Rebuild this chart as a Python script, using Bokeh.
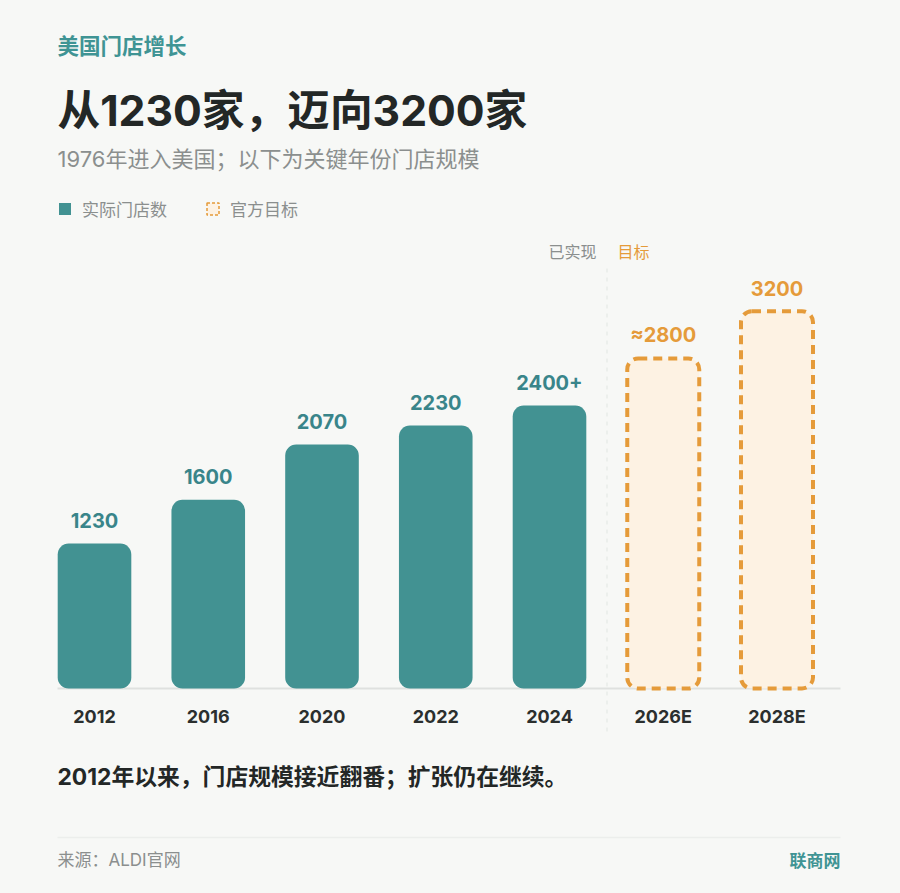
from bokeh.embed import file_html
from bokeh.resources import INLINE
from bokeh.plotting import figure
from bokeh.models import (ColumnDataSource, Range1d, FixedTicker, Label,
                          PolyAnnotation, Legend, LegendItem)
from bokeh.core.properties import value

BG = "#f7f8f6"
TEAL = "#429292"
TEAL_TEXT = "#39858a"
ORANGE = "#e59b3a"
ORANGE_FILL = "#fdf2e3"
DARK = "#232726"
GREY = "#8b8f8e"

categories = ["2012", "2016", "2020", "2022", "2024", "2026E", "2028E"]
actual_pos = [0, 1, 2, 3, 4]
actual_values = [1230, 1600, 2070, 2230, 2400]
actual_labels = ["1230", "1600", "2070", "2230", "2400+"]
target_pos = [5, 6]
target_values = [2800, 3200]
target_labels = ["≈2800", "3200"]

CJK = "Noto Sans CJK SC"
STACK = "Inter, 'Noto Sans CJK SC'"
W, H = 900, 893
PX_PER_UNIT = 0.1179
STEP = 113.75
BASE = 688     # baseline on the canvas
FIRST = 94     # centre of the first bar on the canvas

p = figure(width=W, height=H, output_backend="svg", toolbar_location=None,
           min_border=0,
           x_range=Range1d(-FIRST / STEP, (W - FIRST) / STEP),
           y_range=Range1d(-(H - BASE) / PX_PER_UNIT, BASE / PX_PER_UNIT),
           background_fill_color=BG, border_fill_color=BG, outline_line_color=None)
p.grid.visible = False
p.yaxis.visible = False
ax = p.xaxis[0]
ax.ticker = FixedTicker(ticks=list(range(len(categories))))
ax.major_label_overrides = {i: c for i, c in enumerate(categories)}
ax.axis_line_color = None
ax.major_tick_line_color = None
ax.minor_tick_line_color = None
ax.major_label_standoff = -(H - BASE) + 11
ax.major_label_text_font = "Inter"
ax.major_label_text_font_size = "18px"
ax.major_label_text_font_style = "bold"
ax.major_label_text_color = "#2b2f2e"


def rule(xs, ys, color, width, dash="solid", level="underlay"):
    p.add_layout(PolyAnnotation(xs=xs, ys=ys, xs_units="canvas", ys_units="canvas", fill_alpha=0,
                                line_alpha=1, line_color=color, line_width=width, line_dash=dash,
                                level=level))


rule([57, 840], [688, 688], "#dfe1df", 2)
rule([606.5, 606.5], [268, 732], "#e9ebe9", 1.5, "4 5")
rule([57, 840], [837, 837], "#eceeec", 1.5)

src_a = ColumnDataSource(dict(x=actual_pos, top=actual_values, label=actual_labels))
src_t = ColumnDataSource(dict(x=target_pos, top=target_values, label=target_labels))
r_a = p.vbar(x="x", top="top", bottom=0, width=73.6 / STEP, source=src_a, fill_color=TEAL,
             line_color=None, border_radius=11)
r_t = p.vbar(x="x", top="top", bottom=0, width=72 / STEP, source=src_t, fill_color=ORANGE_FILL,
             line_color=ORANGE, line_width=4, line_dash="9 6", border_radius=11)
p.text(x="x", y="top", text="label", source=src_a, text_align="center", text_baseline="middle",
       y_offset=-23, text_font=value("Inter"), text_font_size="20px", text_font_style="bold",
       text_color=TEAL_TEXT)
p.text(x="x", y="top", text="label", source=src_t, text_align="center", text_baseline="middle",
       y_offset=-23, text_font=value("Inter"), text_font_size="20px", text_font_style="bold",
       text_color=ORANGE)

# legend-only swatch: thinner dashes than the bars, as in the reference
r_key = p.vbar(x=[5], top=[float("nan")], bottom=0, width=0.5, fill_color=ORANGE_FILL, line_color=ORANGE,
               line_width=1.5, line_dash="3 2")
legend = Legend(items=[LegendItem(label="实际门店数", renderers=[r_a]),
                       LegendItem(label="官方目标", renderers=[r_key])],
                orientation="horizontal", location=(57, 672), padding=0, margin=0, spacing=38,
                glyph_width=15, glyph_height=15, label_standoff=10, background_fill_alpha=0,
                border_line_color=None, label_text_font=CJK, label_text_font_size="17px",
                label_text_color=GREY)
p.add_layout(legend)


def text(s, x, y, size, color, style="normal", align="left", font=STACK):
    """x, y are canvas pixels from the top left; y is the text's middle."""
    p.add_layout(Label(x=x, y=y, x_units="canvas", y_units="canvas", text=s,
                       text_font=font, text_font_size=f"{size}px", text_font_style=style,
                       text_color=color, text_align=align, text_baseline="middle"))


text("美国门店增长", 57, 44, 21.5, "#3f9494", "bold", font=CJK)
text("从1230家，迈向3200家", 57, 110, 42.7, DARK, "bold")
text("1976年进入美国；以下为关键年份门店规模", 57, 158, 22, GREY)
text("已实现", 548, 250, 16, GREY, font=CJK)
text("目标", 617, 250, 16, ORANGE, font=CJK)
text("2012年以来，门店规模接近翻番；扩张仍在继续。", 57, 776, 22.8, DARK, "bold")
text("来源：ALDI官网", 57, 859, 17, GREY)
text("联商网", 840, 859, 17, "#3f9494", "bold", "right", font=CJK)

html = file_html(p, INLINE)
html = html.replace("<head>", f"<head><style>html,body{{background:{BG};margin:0;overflow:hidden;}}</style>", 1)
open("out.html", "w").write(html)
